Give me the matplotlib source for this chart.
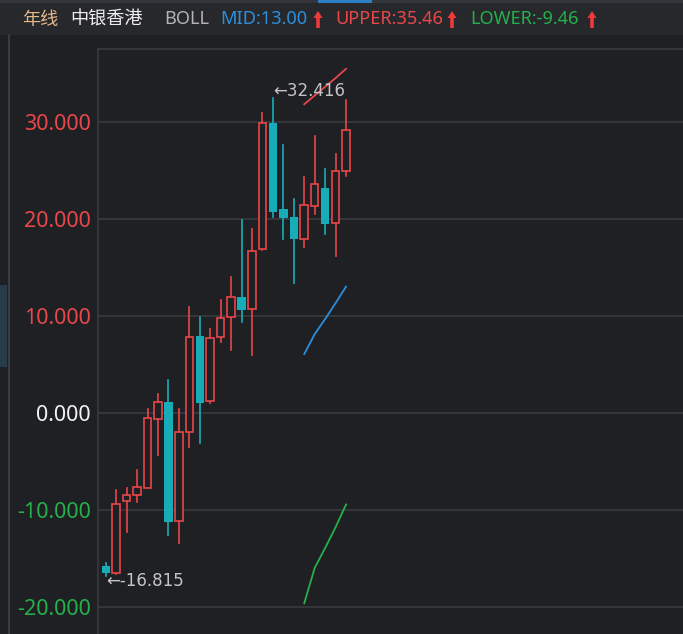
import matplotlib
matplotlib.use("Agg")
import matplotlib.pyplot as plt
from matplotlib.patches import Rectangle, Polygon

# ---------------- data ----------------
opens  = [-15.8, -16.5, -9.10, -8.48, -7.79, -0.65, 1.13, -11.13, -1.96, 7.94, 1.24, 7.84,
          9.83, 11.96, 10.66, 16.85, 29.9, 20.97, 20.2, 17.88, 21.31, 23.13, 19.59, 24.92]
closes = [-16.5, -9.41, -8.48, -7.69, -0.58, 1.13, -11.24, -1.96, 7.77, 0.97, 7.73, 9.76,
          11.96, 10.59, 16.7, 29.9, 20.66, 20.04, 17.88, 21.41, 23.55, 19.45, 24.95, 29.14]
highs  = [-15.5, -7.97, -7.79, -5.9, 0.35, 1.93, 3.37, 0.35, 10.9, 9.83, 8.68, 11.6,
          13.96, 19.86, 18.9, 30.87, 32.416, 27.6, 22.0, 24.27, 28.53, 25.09, 26.64, 32.2]
lows   = [-16.815, -16.6, -12.27, -9.17, -7.8, -4.36, -12.6, -13.46, -3.5, -3.16, 0.97, 7.32,
          6.46, 9.38, 5.95, 16.8, 20.2, 17.88, 13.4, 17.11, 20.48, 18.42, 16.19, 24.4]

boll_idx   = [19, 20, 21, 22, 23]
boll_mid   = [6.05, 8.1, 9.66, 11.3, 13.0]
boll_upper = [31.8, 32.7, 33.6, 34.5, 35.46]
boll_lower = [-19.65, -16.0, -13.95, -11.8, -9.46]

yticks = [-20, -10, 0, 10, 20, 30]
ytick_labels = ["-20.000", "-10.000", "0.000", "10.000", "20.000", "30.000"]

max_label = "←32.416"
min_label = "←-16.815"

# ---------------- style ----------------
W, H = 683, 634
BG = "#1f2024"
HEADER_BG = "#26282c"
GRID = "#393a3e"
RED = "#e8474a"
TEAL = "#17adb8"
BLUE = "#2d8fdb"
GREEN = "#25b04b"
GRAY_TXT = "#c4c4c4"
FONT = ["Noto Sans", "Noto Sans CJK SC", "DejaVu Sans"]
plt.rcParams["font.family"] = FONT

fig = plt.figure(figsize=(W / 100, H / 100), dpi=100, facecolor=BG)

def fx(px):
    return px / W

def fy(py):
    return 1 - py / H

# header band
fig.patches.append(Rectangle((0, fy(35)), 1, 35 / H, transform=fig.transFigure,
                             facecolor=HEADER_BG, edgecolor="none", zorder=0))
# top tab strip
fig.patches.append(Rectangle((0, fy(3)), 1, 3 / H, transform=fig.transFigure,
                             facecolor="#34363b", edgecolor="none", zorder=1))
fig.patches.append(Rectangle((fx(318), fy(3)), 54 / W, 3 / H, transform=fig.transFigure,
                             facecolor="#2d7fc4", edgecolor="none", zorder=2))
# left sliver panel
fig.patches.append(Rectangle((0, fy(367)), 7 / W, 82 / H, transform=fig.transFigure,
                             facecolor="#263c4a", edgecolor="none", zorder=1))
fig.lines.append(plt.Line2D([fx(8.5), fx(8.5)], [fy(35), 0], transform=fig.transFigure,
                            color="#3a3b40", lw=1.5))

# header texts
hy = fy(19.5)
hs = 13.1
fig.text(fx(22), hy, "年线", color="#e6b98a", fontsize=hs, va="center", ha="left")
fig.text(fx(70), hy, "中银香港", color="#eeeeee", fontsize=hs, va="center", ha="left")
fig.text(fx(164), hy, "BOLL", color="#b4b4b4", fontsize=hs, va="center", ha="left")
fig.text(fx(220), hy, "MID:13.00", color=BLUE, fontsize=hs, va="center", ha="left")
fig.text(fx(335), hy, "UPPER:35.46", color=RED, fontsize=hs, va="center", ha="left")
fig.text(fx(470), hy, "LOWER:-9.46", color=GREEN, fontsize=hs, va="center", ha="left")

def up_arrow(xc):
    top, mid, bot = 11, 18, 28
    hw, sw = 4.5, 1.8
    pts = [(xc, top), (xc + hw, mid), (xc + sw, mid), (xc + sw, bot),
           (xc - sw, bot), (xc - sw, mid), (xc - hw, mid)]
    fig.patches.append(Polygon([(fx(a), fy(b)) for a, b in pts], closed=True,
                               transform=fig.transFigure, facecolor="#f03a3a",
                               edgecolor="none", zorder=3))

for xc in (318, 452, 592):
    up_arrow(xc)

# ---------------- axes ----------------
ax_left, ax_top = 98, 49
ax = fig.add_axes([fx(ax_left), 0, (W - ax_left) / W, (H - ax_top) / H], facecolor=BG)
unit = 10.45
x0_px = 105.7
xmin = -(x0_px - ax_left) / unit
xmax = xmin + (W - ax_left) / unit
ax.set_xlim(xmin, xmax)
ppu = 9.7
zero_px = 412.7
ax.set_ylim((zero_px - H) / ppu, (zero_px - ax_top) / ppu)

for s in ["right", "bottom"]:
    ax.spines[s].set_visible(False)
for s in ["left", "top"]:
    ax.spines[s].set_color(GRID)
    ax.spines[s].set_linewidth(1.2)

ax.set_xticks([])
ax.set_yticks(yticks)
ax.set_yticklabels(ytick_labels)
ax.tick_params(axis="y", length=0, pad=5, labelsize=15.5)
tick_colors = {"-20.000": GREEN, "-10.000": GREEN, "0.000": "#f2f2f2",
               "10.000": RED, "20.000": RED, "30.000": RED}
for lab in ax.get_yticklabels():
    lab.set_color(tick_colors[lab.get_text()])
ax.grid(axis="y", color=GRID, lw=1.2)
ax.set_axisbelow(True)

bw = 0.72
for i, (o, c, h, l) in enumerate(zip(opens, closes, highs, lows)):
    if c >= o:
        lo_b, hi_b = o, c
        ax.plot([i, i], [l, lo_b], color=RED, lw=1.2, zorder=3)
        ax.plot([i, i], [hi_b, h], color=RED, lw=1.2, zorder=3)
        ax.add_patch(Rectangle((i - bw / 2, lo_b), bw, max(hi_b - lo_b, 0.05),
                               facecolor=BG, edgecolor=RED, lw=1.2, zorder=4))
    else:
        ax.plot([i, i], [l, h], color=TEAL, lw=1.2, zorder=3)
        ax.add_patch(Rectangle((i - bw / 2 - 0.04, c), bw + 0.08, o - c,
                               facecolor=TEAL, edgecolor="none", zorder=4))

ax.plot(boll_idx, boll_upper, color=RED, lw=1.3, zorder=5)
ax.plot(boll_idx, boll_mid, color=BLUE, lw=1.3, zorder=5)
ax.plot(boll_idx, boll_lower, color=GREEN, lw=1.3, zorder=5)

imax = highs.index(max(highs))
imin = lows.index(min(lows))
ax.annotate(max_label, (imax, highs[imax]), xytext=(0, 5), textcoords="offset points",
            color=GRAY_TXT, fontsize=12, ha="left", va="center", zorder=6,
            family=["DejaVu Sans"])
ax.annotate(min_label, (imin, lows[imin]), xytext=(0, -4), textcoords="offset points",
            color=GRAY_TXT, fontsize=12, ha="left", va="center", zorder=6,
            family=["DejaVu Sans"])

fig.savefig("out.png", dpi=100, facecolor=BG)
